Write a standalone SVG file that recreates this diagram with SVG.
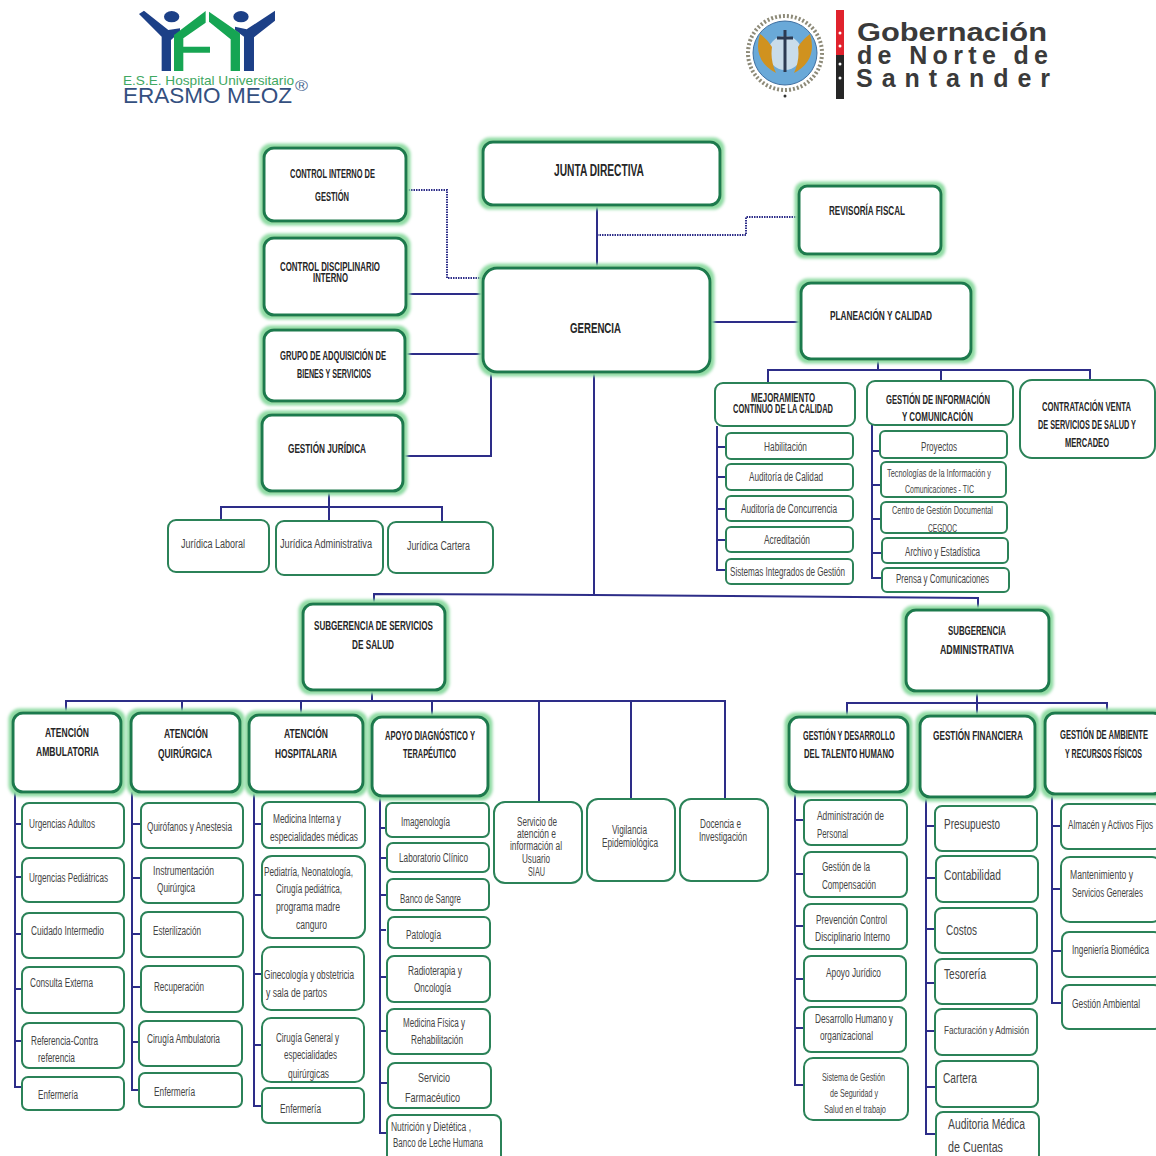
<svg xmlns="http://www.w3.org/2000/svg" width="1156" height="1156" viewBox="0 0 1156 1156">
<style>
text{font-family:"Liberation Sans Narrow","Liberation Sans",Arial,sans-serif;font-size:12px;fill:#444}
.b{font-weight:700;fill:#262626}
.big{fill:#fff;stroke:#1f7a4d;stroke-width:3;filter:url(#glow)}
.box{fill:#fff;stroke:#2b8258;stroke-width:2}
.line{fill:none;stroke:#2d2d88;stroke-width:2}
.dot{fill:none;stroke:#2d2d88;stroke-width:2;stroke-dasharray:1.5 1}
.gob{font-family:"Liberation Sans",sans-serif;font-weight:700;font-size:25px;fill:#3a3a3a}
.hos{font-family:"Liberation Sans",sans-serif}
</style>
<defs>
<filter id="glow" x="-12%" y="-18%" width="124%" height="136%">
<feMorphology in="SourceAlpha" operator="dilate" radius="3.2" result="d"/>
<feGaussianBlur in="d" stdDeviation="1.8" result="s"/>
<feFlood flood-color="#8fdba3" result="c"/>
<feComposite in="c" in2="s" operator="in" result="g"/>
<feMerge><feMergeNode in="g"/><feMergeNode in="SourceGraphic"/></feMerge>
</filter>
<filter id="soft"><feGaussianBlur stdDeviation="0.5"/></filter>
</defs>
<rect width="1156" height="1156" fill="#fff"/>

<g id="logo-hospital">
<g transform="translate(100,0) scale(.3333)" filter="url(#soft)">
<polygon fill="#1e3f87" points="117,42 132,32 205,90 240,85 240,95 213,120 213,213 185,213 185,110"/>
<polygon fill="#1e3f87" points="432,213 432,110 405,90 405,80 440,88 525,32 525,62 462,112 462,213"/>
<ellipse fill="#1e3f87" cx="215" cy="50" rx="23" ry="17"/>
<ellipse fill="#1e3f87" cx="423" cy="50" rx="23" ry="17"/>
<polygon fill="#17a552" points="222,213 222,105 317,33 317,68 250,115 250,140 330,140 330,158 250,158 250,213"/>
<polygon fill="#17a552" points="327,35 420,100 420,213 392,213 392,118 327,65"/>
</g>
<text class="hos" x="123" y="85" textLength="171" lengthAdjust="spacingAndGlyphs" style="font-size:13px;fill:#3fa862">E.S.E. Hospital Universitario</text>
<text class="hos" x="123" y="103" textLength="169" lengthAdjust="spacingAndGlyphs" style="font-size:22px;fill:#34507f">ERASMO MEOZ</text>
<text class="hos" x="295" y="91" textLength="13" lengthAdjust="spacingAndGlyphs" style="font-size:14px;fill:#4a6590">®</text>
</g>

<g id="logo-gobernacion">
<circle cx="785" cy="53" r="37" fill="none" stroke="#8d8a78" stroke-width="4" stroke-dasharray="2 2"/>
<circle cx="785" cy="53" r="32" fill="#6aa9d8" stroke="#3f6fa0"/>
<circle cx="785" cy="53" r="17" fill="#c9dcea"/>
<path d="M760 34Q752 60 776 73Q770 60 772 47Q768 40 760 34ZM810 34Q818 60 794 73Q800 60 798 47Q802 40 810 34Z" fill="#d0921f"/>
<path d="M785 30V72M777 38H793" stroke="#2c3a52" stroke-width="3" fill="none"/>
<circle cx="785" cy="96" r="1.5" fill="#333"/>
<rect x="836" y="10" width="8" height="45" fill="#e0222d"/>
<rect x="836" y="55" width="8" height="44" fill="#262626"/>
<circle cx="840" cy="33" r="1.5" fill="#fff"/><circle cx="840" cy="46" r="1.5" fill="#fff"/><circle cx="840" cy="64" r="1.5" fill="#fff"/><circle cx="840" cy="78" r="1.5" fill="#fff"/>
<text class="gob" x="857" y="41" textLength="190" lengthAdjust="spacingAndGlyphs">Gobernación</text>
<text class="gob" x="857" y="64" textLength="191">de Norte de</text>
<text class="gob" x="856" y="87" textLength="194">Santander</text>
</g>

<g id="connectors">
<path class="dot" d="M406 190H447V278H483"/>
<path class="dot" d="M597 235H746V217H799"/>
<path class="line" d="M597 205V268M406 294H483M405 354H483M491 372V456H403M710 322H801M594 372V595"/>
<path class="line" d="M374 604V594L594 595L978 598V610"/>
<path class="line" d="M878 359V370M768 383V370H1090V380M941 370V381"/>
<path class="line" d="M717 426V570H726M717 447H726M717 477H726M717 509H726M717 540H726"/>
<path class="line" d="M872 425V578H882M872 451H880M872 485H881M872 519H881M872 553H882"/>
<path class="line" d="M329 491V521M221 520V507H442V522"/>
<path class="line" d="M372 690V701M66 712V701H725V799M182 701V713M301 701V715M432 701V717M539 701V802M631 701V799"/>
<path class="line" d="M977 691V716M847 717V703H1107V713"/>
<path class="line" d="M15 792V1087H22M15 824H22M15 877H22M15 934H22M15 989H22M15 1041H22"/>
<path class="line" d="M132 792V1090H141M132 824H141M132 878H141M132 934H141M132 987H141M132 1042H141"/>
<path class="line" d="M254 792V1106H262M254 824H262M254 895H262M254 974H262M254 1045H262"/>
<path class="line" d="M380 796V1133H387M380 828H386M380 858H386M380 895H386M380 930H386M380 977H386M380 1031H386M380 1083H388"/>
<path class="line" d="M795 792V1085H804M795 820H804M795 874H804M795 926H804M795 979H804M795 1028H804"/>
<path class="line" d="M926 797V1134H935M926 826H935M926 878H935M926 929H935M926 983H935M926 1031H935M926 1087H935"/>
<path class="line" d="M1052 794V1003H1061M1052 826H1061M1052 889H1061M1052 951H1061"/>
</g>

<g id="junta-directiva"><rect class="big" x="483" y="142" width="237" height="63" rx="10"/><text class="b" x="554" y="176" textLength="90" lengthAdjust="spacingAndGlyphs" style="font-size:16px">JUNTA DIRECTIVA</text></g>
<g id="control-interno"><rect class="big" x="264" y="148" width="142" height="73" rx="10"/><text class="b" x="290" y="178" textLength="85" lengthAdjust="spacingAndGlyphs">CONTROL INTERNO DE</text><text class="b" x="315" y="201" textLength="34" lengthAdjust="spacingAndGlyphs">GESTIÓN</text></g>
<g id="control-disciplinario"><rect class="big" x="264" y="238" width="142" height="77" rx="10"/><text class="b" x="280" y="271" textLength="100" lengthAdjust="spacingAndGlyphs">CONTROL DISCIPLINARIO</text><text class="b" x="313" y="282" textLength="35" lengthAdjust="spacingAndGlyphs">INTERNO</text></g>
<g id="grupo-adquisicion"><rect class="big" x="264" y="330" width="141" height="71" rx="10"/><text class="b" x="280" y="360" textLength="106" lengthAdjust="spacingAndGlyphs">GRUPO DE ADQUISICIÓN DE</text><text class="b" x="297" y="378" textLength="74" lengthAdjust="spacingAndGlyphs">BIENES Y SERVICIOS</text></g>
<g id="gestion-juridica"><rect class="big" x="262" y="415" width="141" height="76" rx="10"/><text class="b" x="288" y="453" textLength="78" lengthAdjust="spacingAndGlyphs" style="font-size:13px">GESTIÓN JURÍDICA</text></g>
<g id="gerencia"><rect class="big" x="483" y="268" width="227" height="104" rx="14"/><text class="b" x="570" y="333" textLength="51" lengthAdjust="spacingAndGlyphs" style="font-size:15px">GERENCIA</text></g>
<g id="revisoria"><rect class="big" x="799" y="186" width="142" height="68" rx="8"/><text class="b" x="829" y="215" textLength="76" lengthAdjust="spacingAndGlyphs">REVISORÍA FISCAL</text></g>
<g id="planeacion"><rect class="big" x="801" y="283" width="170" height="76" rx="10"/><text class="b" x="830" y="320" textLength="102" lengthAdjust="spacingAndGlyphs">PLANEACIÓN Y CALIDAD</text></g>

<g id="mejoramiento"><rect class="box" x="715" y="383" width="140" height="43" rx="8"/><text class="b" x="751" y="402" textLength="64" lengthAdjust="spacingAndGlyphs">MEJORAMIENTO</text><text class="b" x="733" y="413" textLength="100" lengthAdjust="spacingAndGlyphs">CONTINUO DE LA CALIDAD</text></g>
<g id="gestion-informacion"><rect class="box" x="867" y="381" width="146" height="44" rx="8"/><text class="b" x="886" y="404" textLength="104" lengthAdjust="spacingAndGlyphs">GESTIÓN DE INFORMACIÓN</text><text class="b" x="902" y="421" textLength="71" lengthAdjust="spacingAndGlyphs">Y  COMUNICACIÓN</text></g>
<g id="contratacion"><rect class="box" x="1020" y="380" width="135" height="78" rx="12"/><text class="b" x="1042" y="411" textLength="89" lengthAdjust="spacingAndGlyphs">CONTRATACIÓN VENTA</text><text class="b" x="1038" y="429" textLength="98" lengthAdjust="spacingAndGlyphs">DE SERVICIOS DE SALUD Y</text><text class="b" x="1065" y="447" textLength="44" lengthAdjust="spacingAndGlyphs">MERCADEO</text></g>

<g id="habilitacion"><rect class="box" x="726" y="433" width="127" height="26" rx="5"/><text x="764" y="451" textLength="43" lengthAdjust="spacingAndGlyphs">Habilitación</text></g>
<g id="auditoria-calidad"><rect class="box" x="726" y="464" width="127" height="26" rx="5"/><text x="749" y="481" textLength="74" lengthAdjust="spacingAndGlyphs">Auditoría de Calidad</text></g>
<g id="auditoria-concurrencia"><rect class="box" x="726" y="496" width="127" height="25" rx="5"/><text x="741" y="513" textLength="96" lengthAdjust="spacingAndGlyphs">Auditoría de Concurrencia</text></g>
<g id="acreditacion"><rect class="box" x="726" y="527" width="127" height="25" rx="5"/><text x="764" y="544" textLength="46" lengthAdjust="spacingAndGlyphs">Acreditación</text></g>
<g id="sistemas-integrados"><rect class="box" x="726" y="559" width="127" height="25" rx="5"/><text x="730" y="576" textLength="115" lengthAdjust="spacingAndGlyphs">Sistemas Integrados de Gestión</text></g>

<g id="proyectos"><rect class="box" x="880" y="431" width="127" height="27" rx="5"/><text x="921" y="451" textLength="36" lengthAdjust="spacingAndGlyphs">Proyectos</text></g>
<g id="tic"><rect class="box" x="881" y="462" width="125" height="35" rx="5"/><text x="887" y="477" textLength="104" lengthAdjust="spacingAndGlyphs" style="font-size:11px">Tecnologías de la Información y</text><text x="905" y="493" textLength="69" lengthAdjust="spacingAndGlyphs" style="font-size:11px">Comunicaciones - TIC</text></g>
<g id="cegdoc"><rect class="box" x="881" y="502" width="126" height="31" rx="5"/><text x="892" y="514" textLength="101" lengthAdjust="spacingAndGlyphs" style="font-size:11px">Centro de Gestión Documental</text><text x="928" y="532" textLength="29" lengthAdjust="spacingAndGlyphs" style="font-size:11px">CEGDOC</text></g>
<g id="archivo"><rect class="box" x="882" y="538" width="126" height="25" rx="5"/><text x="905" y="556" textLength="75" lengthAdjust="spacingAndGlyphs">Archivo y Estadística</text></g>
<g id="prensa"><rect class="box" x="882" y="568" width="127" height="24" rx="5"/><text x="896" y="583" textLength="93" lengthAdjust="spacingAndGlyphs">Prensa y Comunicaciones</text></g>

<g id="juridica-laboral"><rect class="box" x="168" y="520" width="101" height="52" rx="8"/><text x="181" y="548" textLength="64" lengthAdjust="spacingAndGlyphs">Jurídica Laboral</text></g>
<g id="juridica-administrativa"><rect class="box" x="276" y="521" width="107" height="54" rx="8"/><text x="280" y="548" textLength="92" lengthAdjust="spacingAndGlyphs">Jurídica Administrativa</text></g>
<g id="juridica-cartera"><rect class="box" x="388" y="522" width="105" height="51" rx="8"/><text x="407" y="550" textLength="63" lengthAdjust="spacingAndGlyphs">Jurídica Cartera</text></g>

<g id="subgerencia-salud"><rect class="big" x="303" y="604" width="142" height="86" rx="10"/><text class="b" x="314" y="630" textLength="119" lengthAdjust="spacingAndGlyphs">SUBGERENCIA DE SERVICIOS</text><text class="b" x="352" y="649" textLength="42" lengthAdjust="spacingAndGlyphs">DE SALUD</text></g>
<g id="subgerencia-administrativa"><rect class="big" x="906" y="610" width="143" height="81" rx="10"/><text class="b" x="948" y="635" textLength="58" lengthAdjust="spacingAndGlyphs">SUBGERENCIA</text><text class="b" x="940" y="654" textLength="74" lengthAdjust="spacingAndGlyphs">ADMINISTRATIVA</text></g>

<g id="atencion-ambulatoria"><rect class="big" x="13" y="713" width="108" height="79" rx="10"/><text class="b" x="45" y="737" textLength="44" lengthAdjust="spacingAndGlyphs">ATENCIÓN</text><text class="b" x="36" y="756" textLength="63" lengthAdjust="spacingAndGlyphs">AMBULATORIA</text></g>
<g id="atencion-quirurgica"><rect class="big" x="131" y="713" width="109" height="79" rx="10"/><text class="b" x="164" y="738" textLength="44" lengthAdjust="spacingAndGlyphs">ATENCIÓN</text><text class="b" x="158" y="758" textLength="54" lengthAdjust="spacingAndGlyphs">QUIRÚRGICA</text></g>
<g id="atencion-hospitalaria"><rect class="big" x="249" y="715" width="114" height="77" rx="10"/><text class="b" x="284" y="738" textLength="44" lengthAdjust="spacingAndGlyphs">ATENCIÓN</text><text class="b" x="275" y="758" textLength="62" lengthAdjust="spacingAndGlyphs">HOSPITALARIA</text></g>
<g id="apoyo-diagnostico"><rect class="big" x="372" y="717" width="116" height="79" rx="10"/><text class="b" x="385" y="740" textLength="90" lengthAdjust="spacingAndGlyphs">APOYO DIAGNÓSTICO Y</text><text class="b" x="403" y="758" textLength="53" lengthAdjust="spacingAndGlyphs">TERAPÉUTICO</text></g>
<g id="talento-humano"><rect class="big" x="789" y="717" width="119" height="75" rx="10"/><text class="b" x="803" y="740" textLength="92" lengthAdjust="spacingAndGlyphs">GESTIÓN Y DESARROLLO</text><text class="b" x="804" y="758" textLength="90" lengthAdjust="spacingAndGlyphs">DEL TALENTO HUMANO</text></g>
<g id="gestion-financiera"><rect class="big" x="920" y="716" width="115" height="81" rx="10"/><text class="b" x="933" y="740" textLength="90" lengthAdjust="spacingAndGlyphs">GESTIÓN FINANCIERA</text></g>
<g id="gestion-ambiente"><rect class="big" x="1045" y="713" width="118" height="81" rx="10"/><text class="b" x="1060" y="739" textLength="88" lengthAdjust="spacingAndGlyphs">GESTIÓN DE AMBIENTE</text><text class="b" x="1065" y="758" textLength="77" lengthAdjust="spacingAndGlyphs">Y RECURSOS FÍSICOS</text></g>

<g id="urgencias-adultos"><rect class="box" x="22" y="803" width="102" height="45" rx="7"/><text x="29" y="828" textLength="66" lengthAdjust="spacingAndGlyphs">Urgencias Adultos</text></g>
<g id="urgencias-pediatricas"><rect class="box" x="22" y="858" width="102" height="44" rx="7"/><text x="29" y="882" textLength="79" lengthAdjust="spacingAndGlyphs">Urgencias Pediátricas</text></g>
<g id="cuidado-intermedio"><rect class="box" x="22" y="913" width="102" height="45" rx="7"/><text x="31" y="935" textLength="73" lengthAdjust="spacingAndGlyphs">Cuidado Intermedio</text></g>
<g id="consulta-externa"><rect class="box" x="22" y="967" width="102" height="46" rx="7"/><text x="30" y="987" textLength="63" lengthAdjust="spacingAndGlyphs">Consulta Externa</text></g>
<g id="referencia"><rect class="box" x="22" y="1023" width="102" height="45" rx="7"/><text x="31" y="1045" textLength="67" lengthAdjust="spacingAndGlyphs">Referencia-Contra</text><text x="38" y="1062" textLength="37" lengthAdjust="spacingAndGlyphs">referencia</text></g>
<g id="enfermeria-amb"><rect class="box" x="22" y="1077" width="102" height="33" rx="6"/><text x="38" y="1099" textLength="40" lengthAdjust="spacingAndGlyphs">Enfermería</text></g>

<g id="quirofanos"><rect class="box" x="141" y="803" width="102" height="45" rx="7"/><text x="147" y="831" textLength="85" lengthAdjust="spacingAndGlyphs">Quirófanos y Anestesia</text></g>
<g id="instrumentacion"><rect class="box" x="141" y="858" width="102" height="45" rx="7"/><text x="153" y="875" textLength="61" lengthAdjust="spacingAndGlyphs">Instrumentación</text><text x="157" y="892" textLength="38" lengthAdjust="spacingAndGlyphs">Quirúrgica</text></g>
<g id="esterilizacion"><rect class="box" x="141" y="912" width="102" height="45" rx="7"/><text x="153" y="935" textLength="48" lengthAdjust="spacingAndGlyphs">Esterilización</text></g>
<g id="recuperacion"><rect class="box" x="141" y="966" width="102" height="46" rx="7"/><text x="154" y="991" textLength="50" lengthAdjust="spacingAndGlyphs">Recuperación</text></g>
<g id="cirugia-ambulatoria"><rect class="box" x="139" y="1021" width="103" height="45" rx="7"/><text x="147" y="1043" textLength="73" lengthAdjust="spacingAndGlyphs">Cirugía Ambulatoria</text></g>
<g id="enfermeria-quir"><rect class="box" x="139" y="1073" width="103" height="34" rx="6"/><text x="154" y="1096" textLength="41" lengthAdjust="spacingAndGlyphs">Enfermería</text></g>

<g id="medicina-interna"><rect class="box" x="262" y="802" width="103" height="46" rx="7"/><text x="273" y="823" textLength="68" lengthAdjust="spacingAndGlyphs">Medicina Interna y</text><text x="270" y="841" textLength="88" lengthAdjust="spacingAndGlyphs">especialidades  médicas</text></g>
<g id="pediatria"><rect class="box" x="262" y="856" width="103" height="82" rx="10"/><text x="264" y="876" textLength="89" lengthAdjust="spacingAndGlyphs">Pediatría, Neonatología,</text><text x="276" y="893" textLength="66" lengthAdjust="spacingAndGlyphs">Cirugía pediátrica,</text><text x="276" y="911" textLength="64" lengthAdjust="spacingAndGlyphs">programa  madre</text><text x="296" y="929" textLength="31" lengthAdjust="spacingAndGlyphs">canguro</text></g>
<g id="ginecologia"><rect class="box" x="262" y="947" width="102" height="63" rx="9"/><text x="264" y="979" textLength="90" lengthAdjust="spacingAndGlyphs">Ginecología y obstetricia</text><text x="266" y="997" textLength="61" lengthAdjust="spacingAndGlyphs">y  sala de partos</text></g>
<g id="cirugia-general"><rect class="box" x="262" y="1018" width="102" height="64" rx="9"/><text x="276" y="1042" textLength="63" lengthAdjust="spacingAndGlyphs">Cirugía General y</text><text x="284" y="1059" textLength="53" lengthAdjust="spacingAndGlyphs">especialidades</text><text x="288" y="1078" textLength="41" lengthAdjust="spacingAndGlyphs">quirúrgicas</text></g>
<g id="enfermeria-hosp"><rect class="box" x="262" y="1088" width="102" height="35" rx="6"/><text x="280" y="1113" textLength="41" lengthAdjust="spacingAndGlyphs">Enfermería</text></g>

<g id="imagenologia"><rect class="box" x="386" y="803" width="103" height="34" rx="6"/><text x="401" y="826" textLength="49" lengthAdjust="spacingAndGlyphs">Imagenología</text></g>
<g id="laboratorio"><rect class="box" x="387" y="843" width="102" height="29" rx="6"/><text x="399" y="862" textLength="69" lengthAdjust="spacingAndGlyphs">Laboratorio Clínico</text></g>
<g id="banco-sangre"><rect class="box" x="387" y="879" width="102" height="31" rx="6"/><text x="400" y="903" textLength="61" lengthAdjust="spacingAndGlyphs">Banco de Sangre</text></g>
<g id="patologia"><rect class="box" x="388" y="917" width="102" height="31" rx="6"/><text x="406" y="939" textLength="35" lengthAdjust="spacingAndGlyphs">Patología</text></g>
<g id="radioterapia"><rect class="box" x="387" y="956" width="103" height="46" rx="7"/><text x="408" y="975" textLength="54" lengthAdjust="spacingAndGlyphs">Radioterapia y</text><text x="414" y="992" textLength="37" lengthAdjust="spacingAndGlyphs">Oncología</text></g>
<g id="medicina-fisica"><rect class="box" x="387" y="1009" width="103" height="45" rx="7"/><text x="403" y="1027" textLength="62" lengthAdjust="spacingAndGlyphs">Medicina Física y</text><text x="411" y="1044" textLength="52" lengthAdjust="spacingAndGlyphs">Rehabilitación</text></g>
<g id="servicio-farmaceutico"><rect class="box" x="388" y="1063" width="103" height="45" rx="7"/><text x="418" y="1082" textLength="32" lengthAdjust="spacingAndGlyphs" style="font-size:13px">Servicio</text><text x="405" y="1102" textLength="55" lengthAdjust="spacingAndGlyphs" style="font-size:13px">Farmacéutico</text></g>
<g id="nutricion"><rect class="box" x="387" y="1115" width="114" height="50" rx="7"/><text x="391" y="1131" textLength="80" lengthAdjust="spacingAndGlyphs">Nutrición y Dietética ,</text><text x="393" y="1147" textLength="90" lengthAdjust="spacingAndGlyphs">Banco de Leche Humana</text></g>

<g id="siau"><rect class="box" x="494" y="802" width="88" height="81" rx="11"/><text x="517" y="826" textLength="40" lengthAdjust="spacingAndGlyphs">Servicio de</text><text x="517" y="838" textLength="39" lengthAdjust="spacingAndGlyphs">atención e</text><text x="510" y="850" textLength="52" lengthAdjust="spacingAndGlyphs">información al</text><text x="522" y="863" textLength="28" lengthAdjust="spacingAndGlyphs">Usuario</text><text x="528" y="876" textLength="17" lengthAdjust="spacingAndGlyphs">SIAU</text></g>
<g id="vigilancia"><rect class="box" x="587" y="799" width="88" height="82" rx="11"/><text x="612" y="834" textLength="35" lengthAdjust="spacingAndGlyphs">Vigilancia</text><text x="602" y="847" textLength="56" lengthAdjust="spacingAndGlyphs">Epidemiológica</text></g>
<g id="docencia"><rect class="box" x="680" y="799" width="88" height="82" rx="11"/><text x="700" y="828" textLength="41" lengthAdjust="spacingAndGlyphs">Docencia e</text><text x="699" y="841" textLength="48" lengthAdjust="spacingAndGlyphs">Investigación</text></g>

<g id="administracion-personal"><rect class="box" x="804" y="800" width="103" height="45" rx="7"/><text x="817" y="820" textLength="67" lengthAdjust="spacingAndGlyphs">Administración de</text><text x="817" y="838" textLength="31" lengthAdjust="spacingAndGlyphs">Personal</text></g>
<g id="compensacion"><rect class="box" x="804" y="852" width="103" height="45" rx="7"/><text x="822" y="871" textLength="48" lengthAdjust="spacingAndGlyphs">Gestión de la</text><text x="822" y="889" textLength="54" lengthAdjust="spacingAndGlyphs">Compensación</text></g>
<g id="prevencion"><rect class="box" x="804" y="904" width="103" height="45" rx="7"/><text x="816" y="924" textLength="71" lengthAdjust="spacingAndGlyphs">Prevención Control</text><text x="815" y="941" textLength="75" lengthAdjust="spacingAndGlyphs">Disciplinario Interno</text></g>
<g id="apoyo-juridico"><rect class="box" x="804" y="956" width="102" height="45" rx="7"/><text x="826" y="977" textLength="55" lengthAdjust="spacingAndGlyphs">Apoyo Jurídico</text></g>
<g id="desarrollo-humano"><rect class="box" x="804" y="1007" width="102" height="45" rx="7"/><text x="815" y="1023" textLength="78" lengthAdjust="spacingAndGlyphs">Desarrollo Humano y</text><text x="820" y="1040" textLength="53" lengthAdjust="spacingAndGlyphs">organizacional</text></g>
<g id="seguridad-salud"><rect class="box" x="804" y="1058" width="104" height="62" rx="9"/><text x="822" y="1081" textLength="63" lengthAdjust="spacingAndGlyphs" style="font-size:10.5px">Sistema de Gestión</text><text x="830" y="1097" textLength="48" lengthAdjust="spacingAndGlyphs" style="font-size:10.5px">de Seguridad y</text><text x="824" y="1113" textLength="62" lengthAdjust="spacingAndGlyphs" style="font-size:10.5px">Salud en el trabajo</text></g>

<g id="presupuesto"><rect class="box" x="935" y="806" width="102" height="45" rx="7"/><text x="944" y="829" textLength="56" lengthAdjust="spacingAndGlyphs" style="font-size:14px">Presupuesto</text></g>
<g id="contabilidad"><rect class="box" x="936" y="856" width="102" height="46" rx="7"/><text x="944" y="880" textLength="57" lengthAdjust="spacingAndGlyphs" style="font-size:14px">Contabilidad</text></g>
<g id="costos"><rect class="box" x="935" y="908" width="102" height="45" rx="7"/><text x="946" y="935" textLength="31" lengthAdjust="spacingAndGlyphs" style="font-size:14px">Costos</text></g>
<g id="tesoreria"><rect class="box" x="935" y="959" width="102" height="45" rx="7"/><text x="944" y="979" textLength="42" lengthAdjust="spacingAndGlyphs" style="font-size:14px">Tesorería</text></g>
<g id="facturacion"><rect class="box" x="935" y="1009" width="102" height="46" rx="7"/><text x="944" y="1034" textLength="85" lengthAdjust="spacingAndGlyphs" style="font-size:11.5px">Facturación y Admisión</text></g>
<g id="cartera"><rect class="box" x="936" y="1061" width="102" height="46" rx="7"/><text x="943" y="1083" textLength="34" lengthAdjust="spacingAndGlyphs" style="font-size:14px">Cartera</text></g>
<g id="auditoria-medica"><rect class="box" x="936" y="1112" width="103" height="52" rx="7"/><text x="948" y="1129" textLength="77" lengthAdjust="spacingAndGlyphs" style="font-size:14px">Auditoria Médica</text><text x="948" y="1152" textLength="55" lengthAdjust="spacingAndGlyphs" style="font-size:14px">de  Cuentas</text></g>

<g id="almacen"><rect class="box" x="1061" y="804" width="100" height="45" rx="7"/><text x="1068" y="829" textLength="85" lengthAdjust="spacingAndGlyphs">Almacén y Activos Fijos</text></g>
<g id="mantenimiento"><rect class="box" x="1061" y="857" width="100" height="65" rx="9"/><text x="1070" y="879" textLength="63" lengthAdjust="spacingAndGlyphs">Mantenimiento y</text><text x="1072" y="897" textLength="71" lengthAdjust="spacingAndGlyphs">Servicios Generales</text></g>
<g id="biomedica"><rect class="box" x="1062" y="932" width="99" height="45" rx="7"/><text x="1072" y="954" textLength="77" lengthAdjust="spacingAndGlyphs">Ingeniería Biomédica</text></g>
<g id="gestion-ambiental"><rect class="box" x="1062" y="985" width="99" height="44" rx="7"/><text x="1072" y="1008" textLength="68" lengthAdjust="spacingAndGlyphs">Gestión Ambiental</text></g>
</svg>
